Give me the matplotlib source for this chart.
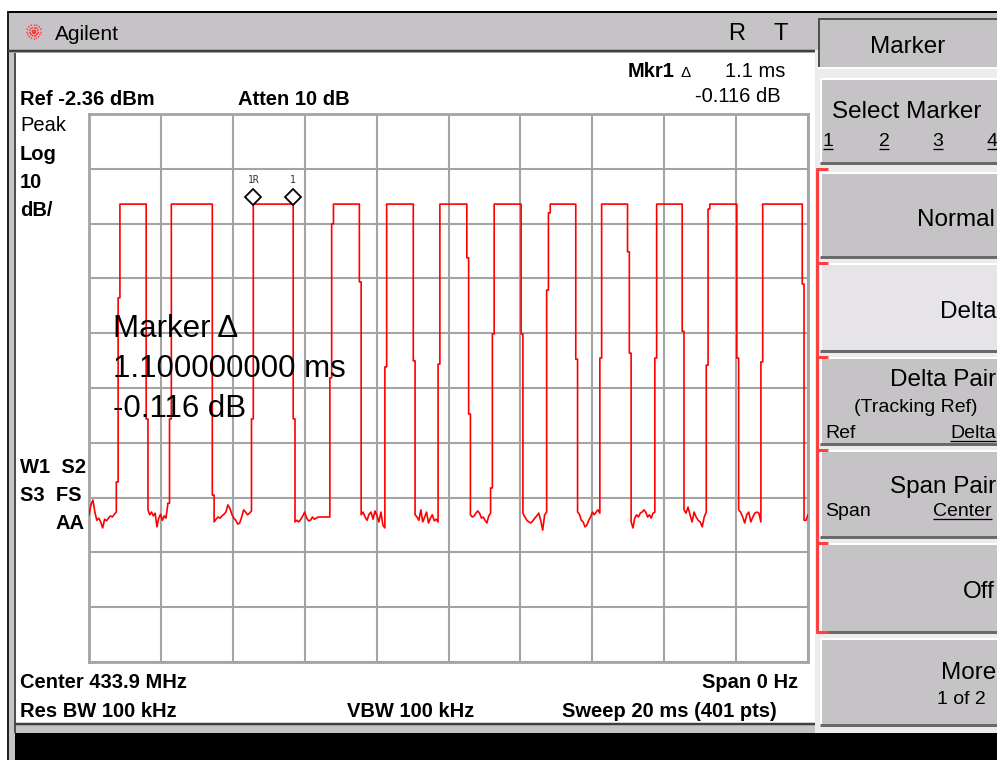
import numpy as np
import matplotlib.pyplot as plt
import matplotlib.transforms as mtransforms
from matplotlib.patches import Rectangle

plt.rcParams['font.family'] = ['Liberation Sans', 'DejaVu Sans']

# instrument settings shown on screen
ref_dbm = -2.36
db_per_div = 10
n_div = 10
sweep_ms = 20
n_pts = 401
atten_db = 10
center_mhz = 433.9
rbw_khz = 100
vbw_khz = 100

# trace (pulse tops, edges with their intermediate samples, noise floor)
high_db = -18.8
rise_ms = [0.86, 2.29, 4.57, 6.80, 8.28, 9.76, 11.27, 12.83, 14.26, 15.79, 17.27, 18.74]
fall_ms = [1.59, 3.43, 5.68, 7.52, 9.02, 10.51, 12.02, 13.54, 14.98, 16.50, 18.02, 19.84]
rise_steps_db = [[-69.5, -35.9], [-73.4, -58.0], [-58.0], [-50.5, -22.4], [-48.5], [-48.0],
                 [-70.6, -42.5], [-34.5, -20.4], [-46.9], [-46.9], [-48.2, -19.7], [-47.6]]
fall_steps_db = [[-58.0], [-71.9], [-58.0], [-33.0], [-47.4], [-28.6, -57.1],
                 [-42.5], [-47.1], [-27.5, -46.0], [-42.0], [-46.9], [-33.4]]
noise_db = [
    [-75.5, -73.7, -72.8, -75.0, -76.5, -76.1, -76.8, -77.9, -76.3, -76.6, -76.1, -75.7, -75.9, -75.4, -75.0],
    [-74.6, -75.5, -75.0, -75.7, -75.2, -77.7, -76.1, -75.4, -76.5, -75.7, -76.1, -73.7],
    [-76.8, -76.3, -75.9, -76.1, -75.7, -75.4, -75.0, -73.7, -74.3, -75.4, -76.1, -76.5, -77.2, -77.0,
     -75.9, -74.6, -75.0, -75.5, -75.2, -74.8],
    [-76.8, -76.5, -76.8, -76.3, -75.7, -75.0, -76.1, -76.6, -76.5, -75.9, -76.3, -76.1, -75.9, -75.9,
     -75.9, -75.9, -75.9, -75.9, -75.9],
    [-75.5, -75.0, -75.9, -76.5, -75.4, -75.0, -76.3, -74.8, -75.7, -76.8, -75.0, -77.4, -77.9],
    [-75.5, -75.9, -76.5, -74.6, -76.8, -75.9, -75.0, -77.0, -76.1, -75.5, -76.6, -76.3, -76.8],
    [-75.5, -75.9, -75.7, -75.2, -74.8, -75.2, -76.1, -75.9, -76.5, -77.0, -75.7, -75.2],
    [-75.2, -75.9, -76.5, -76.8, -77.0, -76.6, -76.1, -75.7, -75.2, -76.5, -78.3, -75.5, -75.0],
    [-75.0, -75.4, -76.5, -76.8, -77.7, -77.4, -76.5, -75.9, -75.0, -75.5, -75.0, -74.6, -75.2],
    [-76.8, -77.9, -76.1, -75.5, -75.9, -75.2, -75.0, -74.6, -75.0, -75.9, -75.5, -76.1, -75.2, -75.0],
    [-74.6, -75.2, -74.1, -75.5, -76.8, -75.0, -75.9, -76.5, -76.8, -77.7, -75.9, -75.0],
    [-74.6, -75.0, -75.9, -77.0, -75.5, -75.0, -76.8, -75.9, -75.2, -75.0, -75.2, -76.8],
    [-76.5, -76.5, -75.5],
]

# delta marker
marker_ref_ms = 4.57
marker_delta_ms = 1.1
marker_delta_db = -0.116

# build the polyline of the trace
step = sweep_ms / (n_pts - 1)
t_pts, db_pts = [], []
gap_start = 0.0
for i in range(len(rise_ms)):
    gap_end = rise_ms[i] - step * len(rise_steps_db[i])
    t_pts += list(np.linspace(gap_start, gap_end, len(noise_db[i])))
    db_pts += noise_db[i]
    t = gap_end
    for k in rise_steps_db[i]:
        t_pts += [t, t + step]
        db_pts += [k, k]
        t += step
    t_pts += [rise_ms[i], fall_ms[i]]
    db_pts += [high_db, high_db]
    t = fall_ms[i]
    for k in fall_steps_db[i]:
        t_pts += [t, t + step]
        db_pts += [k, k]
        t += step
    gap_start = t
t_pts += list(np.linspace(gap_start, sweep_ms, len(noise_db[-1])))
db_pts += noise_db[-1]

# figure in screen pixels
fig = plt.figure(figsize=(9.97, 7.6), dpi=100)
ui = fig.add_axes([0, 0, 1, 1])
ui.set_xlim(0, 997)
ui.set_ylim(760, 0)
ui.axis('off')

GRAY = '#c6c3c6'


def box(x0, y0, x1, y1, fc, z=1):
    ui.add_patch(Rectangle((x0, y0), x1 - x0, y1 - y0, fc=fc, ec='none', zorder=z))


def hline(y, x0, x1, c, px, z=3):
    ui.plot([x0, x1], [y, y], color=c, lw=px * 0.72, zorder=z, solid_capstyle='butt')


def vline(x, y0, y1, c, px, z=3):
    ui.plot([x, x], [y0, y1], color=c, lw=px * 0.72, zorder=z, solid_capstyle='butt')


def label(x, y, s, size, bold=False, ha='left', under=None):
    ui.text(x, y, s, fontsize=size, fontweight='bold' if bold else 'normal',
            ha=ha, va='baseline', color='black', zorder=6)
    if under is not None:
        hline(y + 3, under[0], under[1], 'black', 1.3, z=6)


# frame, title bar and screen
box(8, 12, 997, 760, GRAY, z=0)
box(16, 53, 815, 723, 'white', z=1)
box(15, 733, 997, 760, 'black', z=1)
hline(11.5, 7, 997, 'black', 2)
vline(7.5, 11, 760, '#202020', 2)
hline(51, 8, 815, '#404040', 2.5)
vline(15, 53, 733, '#505050', 2)
hline(723.5, 15, 815, '#404040', 2.5)

# agilent logo and title
for a in np.linspace(0, np.pi, 8, endpoint=False):
    dx, dy = 8 * np.cos(a), 8 * np.sin(a)
    ui.plot([34 - dx, 34 + dx], [32 - dy, 32 + dy], color='#ff3030', lw=1, ls=(0, (1, 1)), zorder=4)
label(55, 40, 'Agilent', 15)
label(728, 40, 'R', 17)
label(773, 40, 'T', 17)

# softkey panel
box(815, 50, 997, 733, '#ececec', z=1)
box(818, 18, 1000, 68, GRAY, z=2)
hline(19, 818, 1000, '#505050', 2)
vline(819, 18, 68, '#505050', 2)
hline(68, 818, 1000, 'white', 2)


def button(y0, y1, face=GRAY):
    box(820, y0, 1000, y1, face, z=2)
    hline(y0 + 1, 820, 1000, 'white', 2)
    vline(821, y0, y1, 'white', 2)
    hline(y1 - 1.5, 820, 1000, '#6a6a6a', 3)


button(78, 164)
buttons = [(172, 258), (263, 352), (357, 445), (450, 538), (543, 633), (638, 726)]
for j, (y0, y1) in enumerate(buttons):
    button(y0, y1, '#e6e4e8' if j == 1 else GRAY)

# red bracket over the marker mode keys
vline(817, 168, 633, '#ff4040', 3, z=4)
for yb in [169, 263, 357, 450, 543, 632]:
    hline(yb, 816, 828, '#ff4040', 3, z=4)

label(908, 53, 'Marker', 17.5, ha='center')
label(832, 118, 'Select Marker', 17.5)
for xd, d in zip([828, 884, 938, 992], ['1', '2', '3', '4']):
    label(xd, 146, d, 14, ha='center', under=(xd - 5, xd + 5))
label(995, 226, 'Normal', 17.5, ha='right')
label(996, 318, 'Delta', 17.5, ha='right')
label(996, 386, 'Delta Pair', 17.5, ha='right')
label(916, 412, '(Tracking Ref)', 14, ha='center')
label(825, 438, 'Ref', 14)
label(996, 438, 'Delta', 14, ha='right', under=(950, 996))
label(996, 493, 'Span Pair', 17.5, ha='right')
label(825, 516, 'Span', 14)
label(992, 516, 'Center', 14, ha='right', under=(933, 992))
label(995, 598, 'Off', 17.5, ha='right')
label(996, 679, 'More', 17.5, ha='right')
label(961, 704, '1 of 2', 14, ha='center')

# annotations around the graticule
label(628, 77, 'Mkr1', 14.5, bold=True)
label(680, 77, '\u0394', 11)
label(785, 77, f'{marker_delta_ms:g} ms', 14.5, ha='right')
label(781, 102, f'{marker_delta_db:.3f} dB', 14.5, ha='right')
label(20, 105, f'Ref {ref_dbm:.2f} dBm', 14.5, bold=True)
label(238, 105, f'Atten {atten_db} dB', 14.5, bold=True)
label(20, 131, 'Peak', 14.5)
label(20, 160, 'Log', 14.5, bold=True)
label(20, 188, f'{db_per_div}', 14.5, bold=True)
label(20, 216, 'dB/', 14.5, bold=True)
label(20, 473, 'W1  S2', 14.5, bold=True)
label(20, 501, 'S3  FS', 14.5, bold=True)
label(84, 529, 'AA', 14.5, bold=True, ha='right')
label(20, 688, f'Center {center_mhz} MHz', 14.5, bold=True)
label(20, 717, f'Res BW {rbw_khz} kHz', 14.5, bold=True)
label(347, 717, f'VBW {vbw_khz} kHz', 14.5, bold=True)
label(798, 688, 'Span 0 Hz', 14.5, bold=True, ha='right')
label(562, 717, f'Sweep {sweep_ms} ms ({n_pts} pts)', 14.5, bold=True)

# graticule and trace
ax = fig.add_axes([89 / 997, (760 - 662) / 760, 719 / 997, 548 / 760])
ax.set_zorder(2)
ax.set_facecolor('white')
ax.set_xlim(0, sweep_ms)
ax.set_ylim(ref_dbm - n_div * db_per_div, ref_dbm)
ax.set_xticks(np.linspace(0, sweep_ms, n_div + 1))
ax.set_yticks(np.linspace(ref_dbm - n_div * db_per_div, ref_dbm, n_div + 1))
ax.tick_params(length=0, labelbottom=False, labelleft=False)
ax.grid(True, color='#a4a4a4', lw=1.5)
for sp in ax.spines.values():
    sp.set_color('#a4a4a4')
    sp.set_linewidth(2)
ax.plot(t_pts, db_pts, color='#ff0000', lw=1.2, zorder=3)

# delta marker pair
mk_t = [marker_ref_ms, marker_ref_ms + marker_delta_ms]
up = mtransforms.offset_copy(ax.transData, fig=fig, x=0, y=7, units='dots')
ax.plot(mk_t, [high_db, high_db], ls='none', marker='D', ms=8, mfc='white', mec='black',
        mew=1.3, transform=up, zorder=5, clip_on=False)
lab = mtransforms.offset_copy(ax.transData, fig=fig, x=0, y=24, units='dots')
for tm, s in zip(mk_t, ['1R', '1']):
    ax.text(tm, high_db, s, fontsize=7, family='DejaVu Sans Mono', ha='center', va='center',
            transform=lab, color='#333333', zorder=5)

# big marker readout
for yb, s in zip([337, 377, 417], ['Marker \u0394', f'{marker_delta_ms:.9f} ms',
                                   f'{marker_delta_db:.3f} dB']):
    ax.text(113, yb, s, fontsize=22.5, ha='left', va='baseline', transform=ui.transData,
            zorder=6, clip_on=False)

fig.savefig('out.png', dpi=100)
